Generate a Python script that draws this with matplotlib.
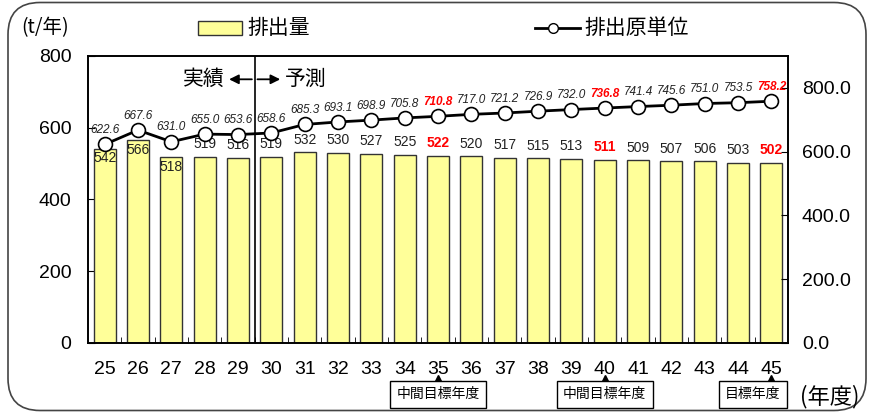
import matplotlib.pyplot as plt
from matplotlib.patches import FancyBboxPatch, Rectangle
from matplotlib.lines import Line2D

plt.rcParams['font.family'] = ['Liberation Sans', 'Noto Sans CJK JP']

# fiscal years (Heisei) and series
years = ['25', '26', '27', '28', '29', '30', '31', '32', '33', '34', '35',
         '36', '37', '38', '39', '40', '41', '42', '43', '44', '45']
emissions = [542, 566, 518, 519, 516, 519, 532, 530, 527, 525, 522,
             520, 517, 515, 513, 511, 509, 507, 506, 503, 502]
intensity = [622.6, 667.6, 631.0, 655.0, 653.6, 658.6, 685.3, 693.1, 698.9, 705.8, 710.8,
             717.0, 721.2, 726.9, 732.0, 736.8, 741.4, 745.6, 751.0, 753.5, 758.2]
target_years = ['35', '40', '45']
target_labels = ['中間目標年度', '中間目標年度', '目標年度']
inside_label_years = ['25', '26', '27']

fig = plt.figure(figsize=(8.72, 4.12), dpi=100)
ax = fig.add_axes([0.1009, 0.1675, 0.8028, 0.6966])
ax2 = ax.twinx()

x = list(range(len(years)))
ax.bar(x, emissions, width=0.66, color='#FFFF99', edgecolor='#333333', linewidth=1.0, zorder=2)
ax.set_xlim(-0.5, len(years) - 0.5)
ax.set_ylim(0, 800)
ax.set_yticks([0, 200, 400, 600, 800])
ax.set_xticks(x)
ax.set_xticklabels(years, fontsize=14)
ax.set_xticks([i + 0.5 for i in x[:-1]], minor=True)
ax.tick_params(axis='x', which='major', length=0, pad=13)
ax.tick_params(axis='x', which='minor', direction='in', length=4)
ax.tick_params(axis='y', direction='in', length=5, labelsize=14, pad=12)

ax2.plot(x, intensity, color='black', linewidth=2, marker='o', markersize=10,
         markerfacecolor='white', markeredgecolor='black', markeredgewidth=1.2, zorder=5)
ax2.set_ylim(0, 900)
ax2.set_yticks([0, 200, 400, 600, 800])
ax2.set_yticklabels([f'{v:.1f}' for v in [0, 200, 400, 600, 800]])
ax2.tick_params(axis='y', direction='in', length=5, labelsize=14, pad=10)

for s in ['top', 'bottom', 'left', 'right']:
    ax.spines[s].set_linewidth(1.2)
    ax2.spines[s].set_linewidth(1.2)

# value labels
for i, (yr, e, v) in enumerate(zip(years, emissions, intensity)):
    hi = yr in target_years
    col = 'red' if hi else '#222222'
    wt = 'bold' if hi else 'normal'
    if yr in inside_label_years:
        ax.annotate(str(e), (i, e), xytext=(0, -2), textcoords='offset points',
                    ha='center', va='top', fontsize=10, color=col, fontweight=wt, zorder=6)
    else:
        ax.annotate(str(e), (i, e), xytext=(0, 4), textcoords='offset points',
                    ha='center', va='bottom', fontsize=10, color=col, fontweight=wt, zorder=6)
    ax2.annotate(f'{v:.1f}', (i, v), xytext=(0, 6), textcoords='offset points',
                 ha='center', va='bottom', fontsize=8.5, style='italic',
                 color=col, fontweight=wt, zorder=6)

# actual / forecast divider
ax.axvline(4.5, color='black', linewidth=1.2, zorder=3)
ax.annotate('', xy=(3.65, 735), xytext=(4.5, 735),
            arrowprops=dict(arrowstyle='-|>', color='black', lw=1.3, mutation_scale=14))
ax.annotate('', xy=(5.35, 735), xytext=(4.5, 735),
            arrowprops=dict(arrowstyle='-|>', color='black', lw=1.3, mutation_scale=14))
ax.text(3.6, 735, '実績', ha='right', va='center', fontsize=15)
ax.text(5.4, 735, '予測', ha='left', va='center', fontsize=15)

# target year callouts below the axis
box_offsets = {'35': 0.0, '40': 0.0, '45': -0.55}
for yr, lab in zip(target_years, target_labels):
    i = years.index(yr)
    ax.plot(i, -100, marker='^', color='black', markersize=6, clip_on=False)
    ax.text(i + box_offsets[yr], -143, lab, ha='center', va='center', fontsize=10,
            bbox=dict(boxstyle='square,pad=0.45', facecolor='white', edgecolor='black', linewidth=1))

fig.text(0.917, 0.037, '(年度)', ha='left', va='center', fontsize=16,
         family=['Noto Sans CJK JP'])
fig.text(0.024, 0.932, '(t/年)', ha='left', va='center', fontsize=14,
         family=['Noto Sans CJK JP'])

# legend drawn in figure coordinates
fig.patches.append(Rectangle((0.227, 0.915), 0.051, 0.034, transform=fig.transFigure,
                             facecolor='#FFFF99', edgecolor='#333333', linewidth=1))
fig.text(0.284, 0.932, '排出量', ha='left', va='center', fontsize=15)
fig.lines.append(Line2D([0.613, 0.665], [0.932, 0.932], transform=fig.transFigure,
                        color='black', linewidth=2))
fig.lines.append(Line2D([0.634], [0.932], transform=fig.transFigure, marker='o',
                        markersize=7, markerfacecolor='white', markeredgecolor='black'))
fig.text(0.670, 0.932, '排出原単位', ha='left', va='center', fontsize=15)

# rounded frame around the figure (inch units so the corners stay circular)
fig.patches.append(FancyBboxPatch((0.08, 0.015), 8.58, 4.08, transform=fig.dpi_scale_trans,
                                  boxstyle='round,pad=0,rounding_size=0.32',
                                  facecolor='none', edgecolor='#444444', linewidth=1.2))

fig.savefig('out.png', dpi=100)
